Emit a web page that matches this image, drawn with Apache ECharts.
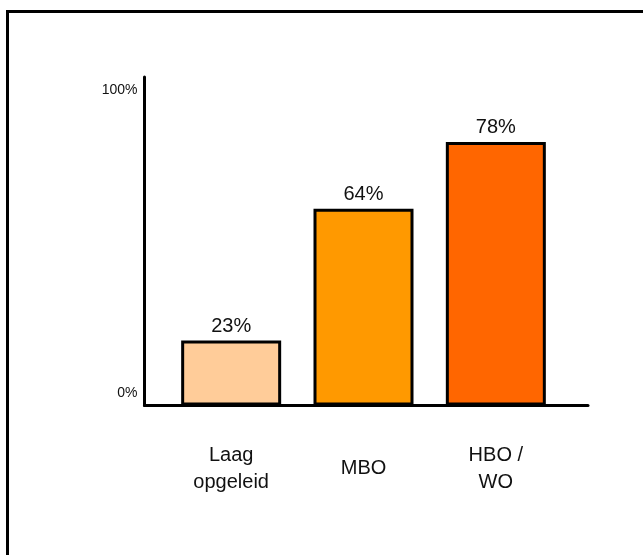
<!DOCTYPE html>
<html>
<head>
<meta charset="utf-8">
<script src="https://cdn.jsdelivr.net/npm/echarts@6/dist/echarts.min.js"></script>
<style>
	html, body { margin: 0; padding: 0; background: #fff; }
	#chart { width: 643px; height: 555px; }
</style>
</head>
<body>
<div id="chart"></div>
<script>
// opleidingsniveau
var categories = ['Laag\nopgeleid', 'MBO', 'HBO /\nWO'];
// bar heights as drawn (axis 0..100%)
var values = [21.4, 64.8, 86.8];
// labels as printed above the bars
var barLabels = ['23%', '64%', '78%'];
var barColors = ['#FFCC99', '#FF9900', '#FF6600'];
var yTicks = [0, 100];

var font = 'Liberation Sans, Arial, sans-serif';
var chart = echarts.init(document.getElementById('chart'));

var option = {
	animation: false,
	backgroundColor: '#fff',
	graphic: [{
		// frame, only top and left edge visible
		type: 'rect',
		shape: { x: 7.5, y: 11.5, width: 700, height: 600 },
		style: { fill: 'none', stroke: '#000', lineWidth: 3 }
	}],
	grid: [
		{ left: 144.5, right: 55, top: 77, bottom: 149.5 },
		{ left: 165, width: 397, top: 77, bottom: 149.5 }
	],
	xAxis: [{
		type: 'category',
		gridIndex: 0,
		data: categories,
		axisLine: { lineStyle: { color: '#000', width: 3 } },
		axisTick: { show: false },
		axisLabel: { show: false }
	}, {
		type: 'category',
		gridIndex: 1,
		data: categories,
		axisLine: { show: false },
		axisTick: { show: false },
		axisLabel: {
			color: '#111',
			fontFamily: font,
			fontSize: 20,
			lineHeight: 27,
			margin: 63,
			verticalAlign: 'middle',
			interval: 0
		}
	}],
	yAxis: [{
		type: 'value',
		gridIndex: 0,
		min: 0,
		max: 108.2,
		interval: 100,
		splitLine: { show: false },
		axisLine: { show: true, lineStyle: { color: '#000', width: 3 } },
		axisTick: { show: false },
		axisLabel: {
			color: '#111',
			fontFamily: font,
			fontSize: 14,
			lineHeight: 24,
			margin: 7,
			showMaxLabel: false,
			formatter: function(v) {
				// empty 2nd line lifts the label above its tick
				return yTicks.indexOf(v) >= 0 ? v + '%\n' : '';
			}
		}
	}, {
		type: 'value',
		gridIndex: 1,
		min: 0,
		max: 108.2,
		show: false
	}],
	series: [{
		type: 'bar',
		xAxisIndex: 1,
		yAxisIndex: 1,
		barWidth: 100,
		data: values.map(function(v, i) {
			return { value: v, itemStyle: { color: barColors[i] } };
		}),
		itemStyle: { borderColor: '#000', borderWidth: 3 },
		label: {
			show: true,
			position: 'top',
			distance: 4,
			color: '#111',
			fontFamily: font,
			fontSize: 20,
			formatter: function(p) { return barLabels[p.dataIndex]; }
		}
	}]
};

chart.setOption(option);
</script>
</body>
</html>
